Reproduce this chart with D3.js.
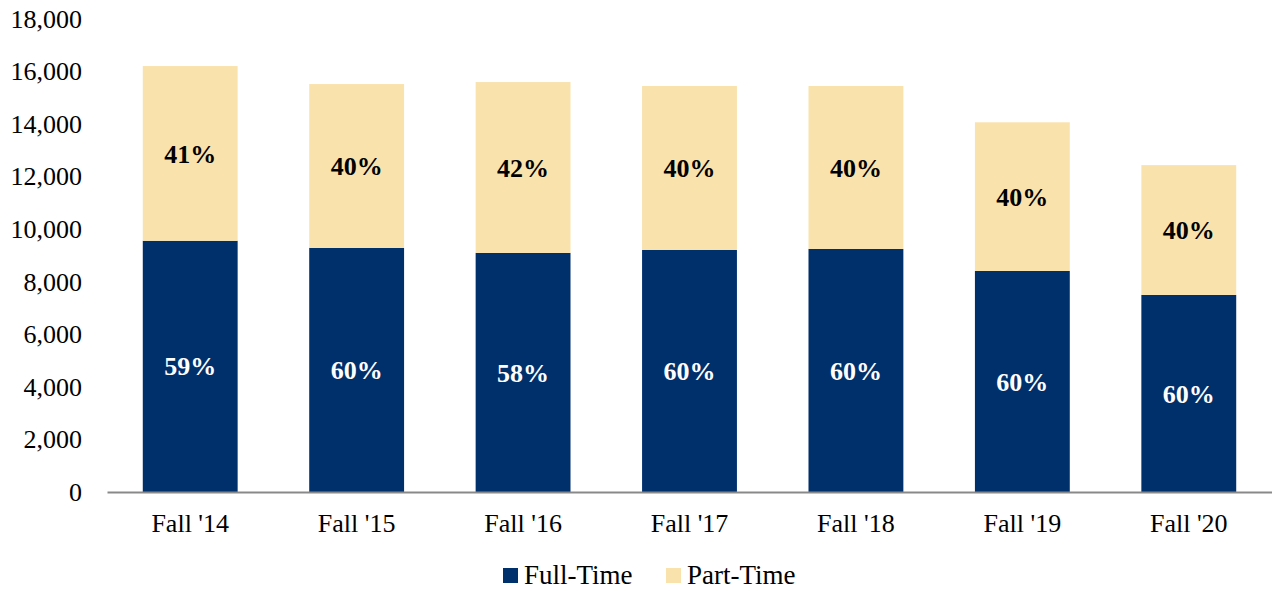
<!DOCTYPE html>
<html>
<head>
<meta charset="utf-8">
<script src="https://cdn.jsdelivr.net/npm/d3@7"></script>
<style>
  body { margin: 0; background: #fff; }
  svg text { font-family: "Liberation Serif", "Times New Roman", serif; }
</style>
</head>
<body>
<svg id="chart"></svg>
<script>
const width = 1272;
const height = 591;

// data
const terms = ["Fall '14", "Fall '15", "Fall '16", "Fall '17", "Fall '18", "Fall '19", "Fall '20"];
const fullTime = [9560, 9290, 9100, 9210, 9250, 8410, 7500];
const partTime = [6650, 6235, 6500, 6240, 6200, 5660, 4940];
const yTicks = [0, 2000, 4000, 6000, 8000, 10000, 12000, 14000, 16000, 18000];

const colors = { full: "#00306c", part: "#fae2ad" };

const margin = { top: 19, right: 0, bottom: 99, left: 107 };

const svg = d3.select("#chart")
    .attr("width", width)
    .attr("height", height);

const x = d3.scaleBand()
    .domain(terms)
    .range([margin.left, width - margin.right])
    .paddingInner(0.43)
    .paddingOuter(0.215);

const y = d3.scaleLinear()
    .domain([0, 18000])
    .range([height - margin.bottom, margin.top]);

const rows = terms.map((t, i) => ({ term: t, full: fullTime[i], part: partTime[i] }));
const stack = d3.stack().keys(["full", "part"])(rows);

// bars
svg.append("g")
    .selectAll("g")
    .data(stack)
    .join("g")
    .attr("fill", d => colors[d.key])
    .selectAll("rect")
    .data(d => d)
    .join("rect")
    .attr("x", d => x(d.data.term))
    .attr("y", d => y(d[1]))
    .attr("width", x.bandwidth())
    .attr("height", d => y(d[0]) - y(d[1]));

// percent labels
stack.forEach(layer => {
    svg.append("g")
        .selectAll("text")
        .data(layer)
        .join("text")
        .attr("x", d => x(d.data.term) + x.bandwidth() / 2)
        .attr("y", d => (y(d[0]) + y(d[1])) / 2)
        .attr("dy", "0.35em")
        .attr("text-anchor", "middle")
        .attr("font-size", 26)
        .attr("font-weight", "bold")
        .attr("fill", layer.key === "full" ? "#fff" : "#000")
        .text(d => Math.round(100 * d.data[layer.key] / (d.data.full + d.data.part)) + "%");
});

// y axis (labels only)
const yAxis = svg.append("g")
    .attr("transform", `translate(${margin.left},0)`)
    .call(d3.axisLeft(y).tickValues(yTicks).tickFormat(d3.format(",")).tickSize(0).tickPadding(25));
yAxis.select(".domain").remove();
yAxis.selectAll("text")
    .attr("font-size", 26)
    .attr("fill", "#000")
    .style("font-family", "'Liberation Serif', 'Times New Roman', serif");

// x axis
const xAxis = svg.append("g")
    .attr("transform", `translate(0,${y(0)})`)
    .call(d3.axisBottom(x).tickSize(0).tickPadding(22));
xAxis.select(".domain")
    .attr("stroke", "#898989")
    .attr("stroke-width", 2);
xAxis.selectAll("text")
    .attr("font-size", 26)
    .attr("fill", "#000")
    .style("font-family", "'Liberation Serif', 'Times New Roman', serif");

// legend
const legendItems = [
    { label: "Full-Time", color: colors.full, x: 503 },
    { label: "Part-Time", color: colors.part, x: 666 }
];
const legend = svg.append("g");
legendItems.forEach(item => {
    legend.append("rect")
        .attr("x", item.x)
        .attr("y", 568)
        .attr("width", 15)
        .attr("height", 15)
        .attr("fill", item.color);
    legend.append("text")
        .attr("x", item.x + 21)
        .attr("y", 584)
        .attr("font-size", 27)
        .attr("fill", "#000")
        .text(item.label);
});
</script>
</body>
</html>
